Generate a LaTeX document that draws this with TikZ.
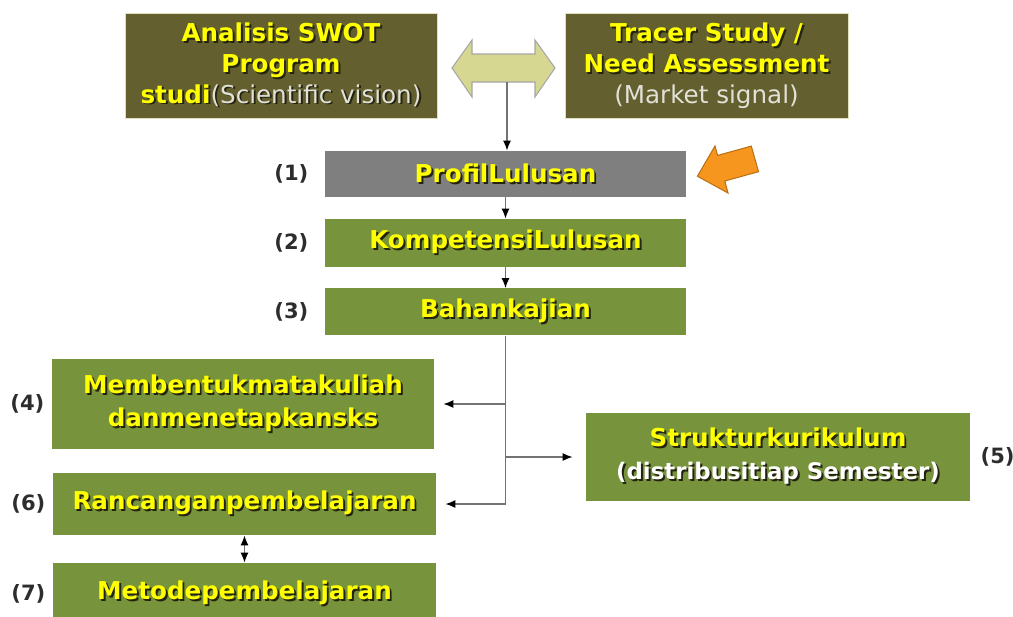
\documentclass[tikz,border=0pt]{standalone}
\usepackage{fontspec}
\setmainfont{DejaVu Sans}
\usetikzlibrary{positioning,arrows.meta}

\definecolor{olivebox}{RGB}{99,95,47}
\definecolor{greenbox}{RGB}{119,147,60}
\definecolor{graybox}{RGB}{127,127,127}
\definecolor{txtyellow}{RGB}{255,255,0}
\definecolor{shadowcol}{RGB}{35,35,15}
\definecolor{khaki}{RGB}{214,216,145}
\definecolor{orangearr}{RGB}{247,150,30}
\definecolor{linkgray}{RGB}{115,115,115}
\definecolor{numgray}{RGB}{45,45,45}
\definecolor{softwhite}{RGB}{225,225,215}

% text with a small drop shadow
\newcommand{\shd}[1]{\makebox[0pt][l]{\hspace{1.1pt}\raisebox{-1.1pt}{\textcolor{shadowcol}{#1}}}#1}

\begin{document}
\begin{tikzpicture}[x=0.02cm, y=-0.02cm, node distance=1.38cm,
  olivenode/.style={rectangle, fill=olivebox, draw={rgb,255:red,225;green,225;blue,185}, line width=0.5pt, text=txtyellow, font=\fontsize{14}{17.5}\selectfont\bfseries, align=center, minimum height=2.1cm, inner sep=0pt},
  greennode/.style={rectangle, fill=greenbox, text=txtyellow, font=\fontsize{14}{18.5}\selectfont\bfseries, align=center, inner sep=0pt},
  graynode/.style={greennode, fill=graybox},
  numnode/.style={text=numgray, font=\fontsize{12}{14}\selectfont\bfseries, inner sep=0pt},
  link/.style={draw=linkgray, line width=0.85pt, -{Latex[length=2mm,width=1.6mm,color=black]}},
  twolink/.style={draw=linkgray, line width=0.85pt, {Latex[length=2mm,width=1.6mm,color=black]}-{Latex[length=2mm,width=1.6mm,color=black]}},
  ]
  \useasboundingbox (0,0) rectangle (1013,616);

  \node[olivenode, minimum width=6.24cm] (swot) at (281,65.5) {\shd{Analisis SWOT}\\ \shd{Program}\\ \makebox[0pt][l]{\hspace{1.1pt}\raisebox{-1.1pt}{\textcolor{shadowcol}{studi{\mdseries(Scientific vision)}}}}studi{\mdseries\color{softwhite}(Scientific vision)}};
  \node[olivenode, minimum width=5.66cm] (tracer) at (706.5,65.5) {\shd{Tracer Study /}\\ \shd{Need Assessment}\\ {\mdseries\color{softwhite}(Market signal)}};

  % two-way arrow between the analyses
  \filldraw[fill=khaki, draw=gray!70, line width=0.6pt] (452,68) -- (472,40) -- (472,54) -- (535,54) -- (535,40) -- (555,68) -- (535,97) -- (535,82) -- (472,82) -- (472,97) -- cycle;
  \coordinate (dblbase) at (507,82);

  \node[graynode, minimum width=7.22cm, minimum height=0.92cm] (prof) at (505.5,174) {\shd{ProfilLulusan}};
  \node[greennode, minimum width=7.22cm, minimum height=0.96cm] (komp) [below of=prof] {\shd{KompetensiLulusan}};
  \node[greennode, minimum width=7.22cm, minimum height=0.94cm] (bahan) [below of=komp] {\shd{Bahankajian}};

  \node[greennode, minimum width=7.64cm, minimum height=1.8cm] (matkul) at (243,404) {\shd{Membentukmatakuliah}\\ \shd{danmenetapkansks}};
  \node[greennode, minimum width=7.66cm, minimum height=1.24cm] (rancang) at (244.5,504) {\shd{Rancanganpembelajaran}};
  \node[greennode, minimum width=7.66cm, minimum height=1.24cm] (metode) [below of=rancang, node distance=1.8cm] {\shd{Metodepembelajaran}};
  \node[greennode, minimum width=7.68cm, minimum height=1.76cm] (struktur) at (778,457) {\shd{Strukturkurikulum}\\ {\fontsize{13}{16}\selectfont\color{white}\shd{(distribusitiap Semester)}}};

  \node[numnode, left=0.32cm of prof] (n1) {(1)};
  \node[numnode, left=0.32cm of komp] (n2) {(2)};
  \node[numnode, left=0.32cm of bahan] (n3) {(3)};
  \node[numnode, left=0.14cm of matkul] (n4) {(4)};
  \node[numnode, right=0.2cm of struktur] (n5) {(5)};
  \node[numnode, left=0.14cm of rancang] (n6) {(6)};
  \node[numnode, left=0.14cm of metode] (n7) {(7)};

  % orange pointer
  \filldraw[fill=orangearr, draw=orangearr!75!black, line width=0.6pt] (697.4,176.2) -- (715,146) -- (717.6,155.4) -- (751.3,146.1) -- (758.5,171.7) -- (724.8,181) -- (728,193) -- cycle;

  \draw[link] (dblbase) -- (dblbase |- prof.north);
  \draw[link] (prof) -- (komp);
  \draw[link] (komp) -- (bahan);
  \draw[link, shorten >=0.18cm] (bahan.south) |- (rancang.east);
  \draw[link, shorten >=0.18cm] (bahan.south |- matkul.east) -- (matkul.east);
  \draw[link, shorten >=0.26cm] (bahan.south |- struktur.west) -- (struktur.west);
  \draw[twolink] (rancang) -- (metode);
\end{tikzpicture}
\end{document}
